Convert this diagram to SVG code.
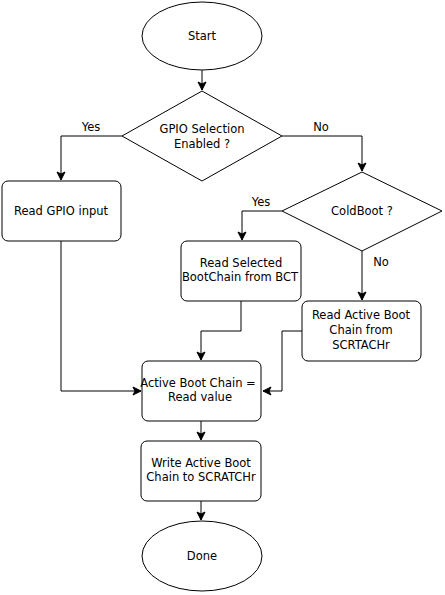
<svg xmlns="http://www.w3.org/2000/svg" width="445" height="595" viewBox="0 0 445 595">
<style>
.s{fill:#fff;stroke:#000;stroke-width:1}
.c{fill:none;stroke:#000;stroke-width:1}
text{font-family:"DejaVu Sans",sans-serif;font-size:11.5px;fill:#000;text-anchor:middle}
</style>
<defs>
<marker id="a" markerWidth="10" markerHeight="10" refX="9" refY="5" orient="auto" markerUnits="userSpaceOnUse">
<path d="M1,1 L9,5 L1,9 L3,5 Z" fill="#000" stroke="#000" stroke-width="1"/>
</marker>
</defs>
<rect width="445" height="595" fill="#fff"/>
<g id="connectors">
<path class="c" d="M202,70 V90" marker-end="url(#a)"/>
<path class="c" d="M122,136 H61 V180" marker-end="url(#a)"/>
<path class="c" d="M282,136 H362 V171" marker-end="url(#a)"/>
<path class="c" d="M282,211 H242 V240" marker-end="url(#a)"/>
<path class="c" d="M362,251 V300" marker-end="url(#a)"/>
<path class="c" d="M241,301 V331 H201 V360" marker-end="url(#a)"/>
<path class="c" d="M302,331 H282 V391 H263" marker-end="url(#a)"/>
<path class="c" d="M61,241 V391 H141" marker-end="url(#a)"/>
<path class="c" d="M201,421 V440" marker-end="url(#a)"/>
<path class="c" d="M201,501 V520" marker-end="url(#a)"/>
<text x="91" y="131">Yes</text>
<text x="321" y="131">No</text>
<text x="261" y="206">Yes</text>
<text x="381" y="266">No</text>
</g>
<g id="start">
<ellipse class="s" cx="202" cy="36" rx="60" ry="34"/>
<text x="202" y="40">Start</text>
</g>
<g id="gpio-decision">
<polygon class="s" points="202,91 282,136 202,181 122,136"/>
<text x="202" y="133">GPIO Selection</text>
<text x="202" y="148">Enabled ?</text>
</g>
<g id="read-gpio">
<rect class="s" x="2" y="181" width="119" height="60" rx="6"/>
<text x="61" y="215">Read GPIO input</text>
</g>
<g id="coldboot">
<polygon class="s" points="362,172 442,211 362,251 282,211"/>
<text x="362" y="215">ColdBoot ?</text>
</g>
<g id="read-selected">
<rect class="s" x="181" y="241" width="120" height="60" rx="6"/>
<text x="241" y="267">Read Selected</text>
<text x="240" y="281">BootChain from BCT</text>
</g>
<g id="read-active">
<rect class="s" x="302" y="301" width="119" height="60" rx="6"/>
<text x="361" y="319">Read Active Boot</text>
<text x="361" y="334">Chain from</text>
<text x="361" y="349">SCRTACHr</text>
</g>
<g id="active-boot-chain">
<rect class="s" x="142" y="361" width="119" height="60" rx="6"/>
<text x="198" y="387">Active Boot Chain =</text>
<text x="200" y="401">Read value</text>
</g>
<g id="write-active">
<rect class="s" x="141" y="441" width="120" height="60" rx="6"/>
<text x="201" y="467">Write Active Boot</text>
<text x="201" y="481">Chain to SCRATCHr</text>
</g>
<g id="done">
<ellipse class="s" cx="202" cy="556" rx="60" ry="35"/>
<text x="202" y="560">Done</text>
</g>
</svg>
